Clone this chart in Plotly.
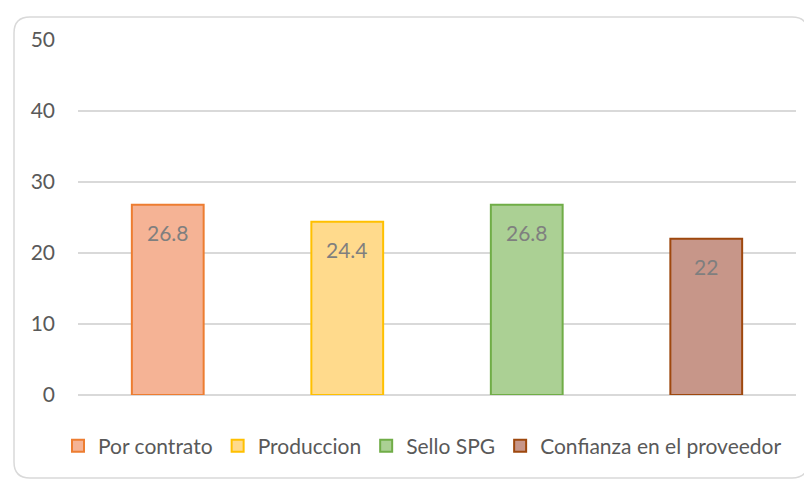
import plotly.graph_objects as go

categories = ["Por contrato", "Produccion", "Sello SPG", "Confianza en el proveedor"]
values = [26.8, 24.4, 26.8, 22]
value_labels = ["26.8", "24.4", "26.8", "22"]
fill_colors = ["#F5B395", "#FFDA8C", "#ABD094", "#C79689"]
line_colors = ["#ED7D31", "#FFC000", "#70AD47", "#9E480E"]
y_ticks = [0, 10, 20, 30, 40, 50]

FONT = "Lato, 'Liberation Sans', sans-serif"

fig = go.Figure()
for cat, val, fc, lc in zip(categories, values, fill_colors, line_colors):
    fig.add_trace(go.Bar(
        x=[cat], y=[val], name=cat,
        marker=dict(color=fc, line=dict(color=lc, width=2)),
        width=0.4,
    ))

for cat, val, lab in zip(categories, values, value_labels):
    fig.add_annotation(x=cat, y=val, text=lab, showarrow=False,
                       yanchor="middle", yshift=-28,
                       font=dict(family=FONT, size=21, color="#7F7F7F"))

# page body has an 8px margin, so the figure is 8px smaller
W, H = 804, 472
L, R, T, B = 70, 16, 32, 85
pw, ph = W - L - R, H - T - B

def px(x):
    return (x - L) / pw

def py(y):
    return (H - B - y) / ph

x0, x1, y0, y1 = px(6), px(800), py(470), py(9)
rx, ry = 16 / pw, 16 / ph
path = (f"M {x0+rx},{y1} L {x1-rx},{y1} Q {x1},{y1} {x1},{y1-ry} "
        f"L {x1},{y0+ry} Q {x1},{y0} {x1-rx},{y0} L {x0+rx},{y0} "
        f"Q {x0},{y0} {x0},{y0+ry} L {x0},{y1-ry} Q {x0},{y1} {x0+rx},{y1} Z")
fig.add_shape(type="path", path=path, xref="paper", yref="paper",
              line=dict(color="#D9D9D9", width=1.5), layer="below")

fig.update_layout(
    width=W, height=H,
    margin=dict(l=L, r=R, t=T, b=B, autoexpand=False),
    paper_bgcolor="white", plot_bgcolor="white",
    barmode="overlay",
    showlegend=True,
    legend=dict(orientation="h", x=px(50), xanchor="left",
                y=py(438), yanchor="middle",
                bgcolor="rgba(0,0,0,0)",
                font=dict(family=FONT, size=21, color="#595959"),
                itemwidth=30, traceorder="normal"),
    xaxis=dict(showticklabels=False, showgrid=False, zeroline=False,
               showline=False, ticks=""),
    yaxis=dict(range=[0, 50], tickvals=y_ticks, showgrid=True,
               gridcolor="#D9D9D9", gridwidth=1.5, zeroline=True,
               zerolinecolor="#D9D9D9", zerolinewidth=1.5, showline=False,
               ticks="", ticklabelstandoff=22,
               tickfont=dict(family=FONT, size=21, color="#595959")),
    font=dict(family=FONT),
)

fig.write_html("out.html")
